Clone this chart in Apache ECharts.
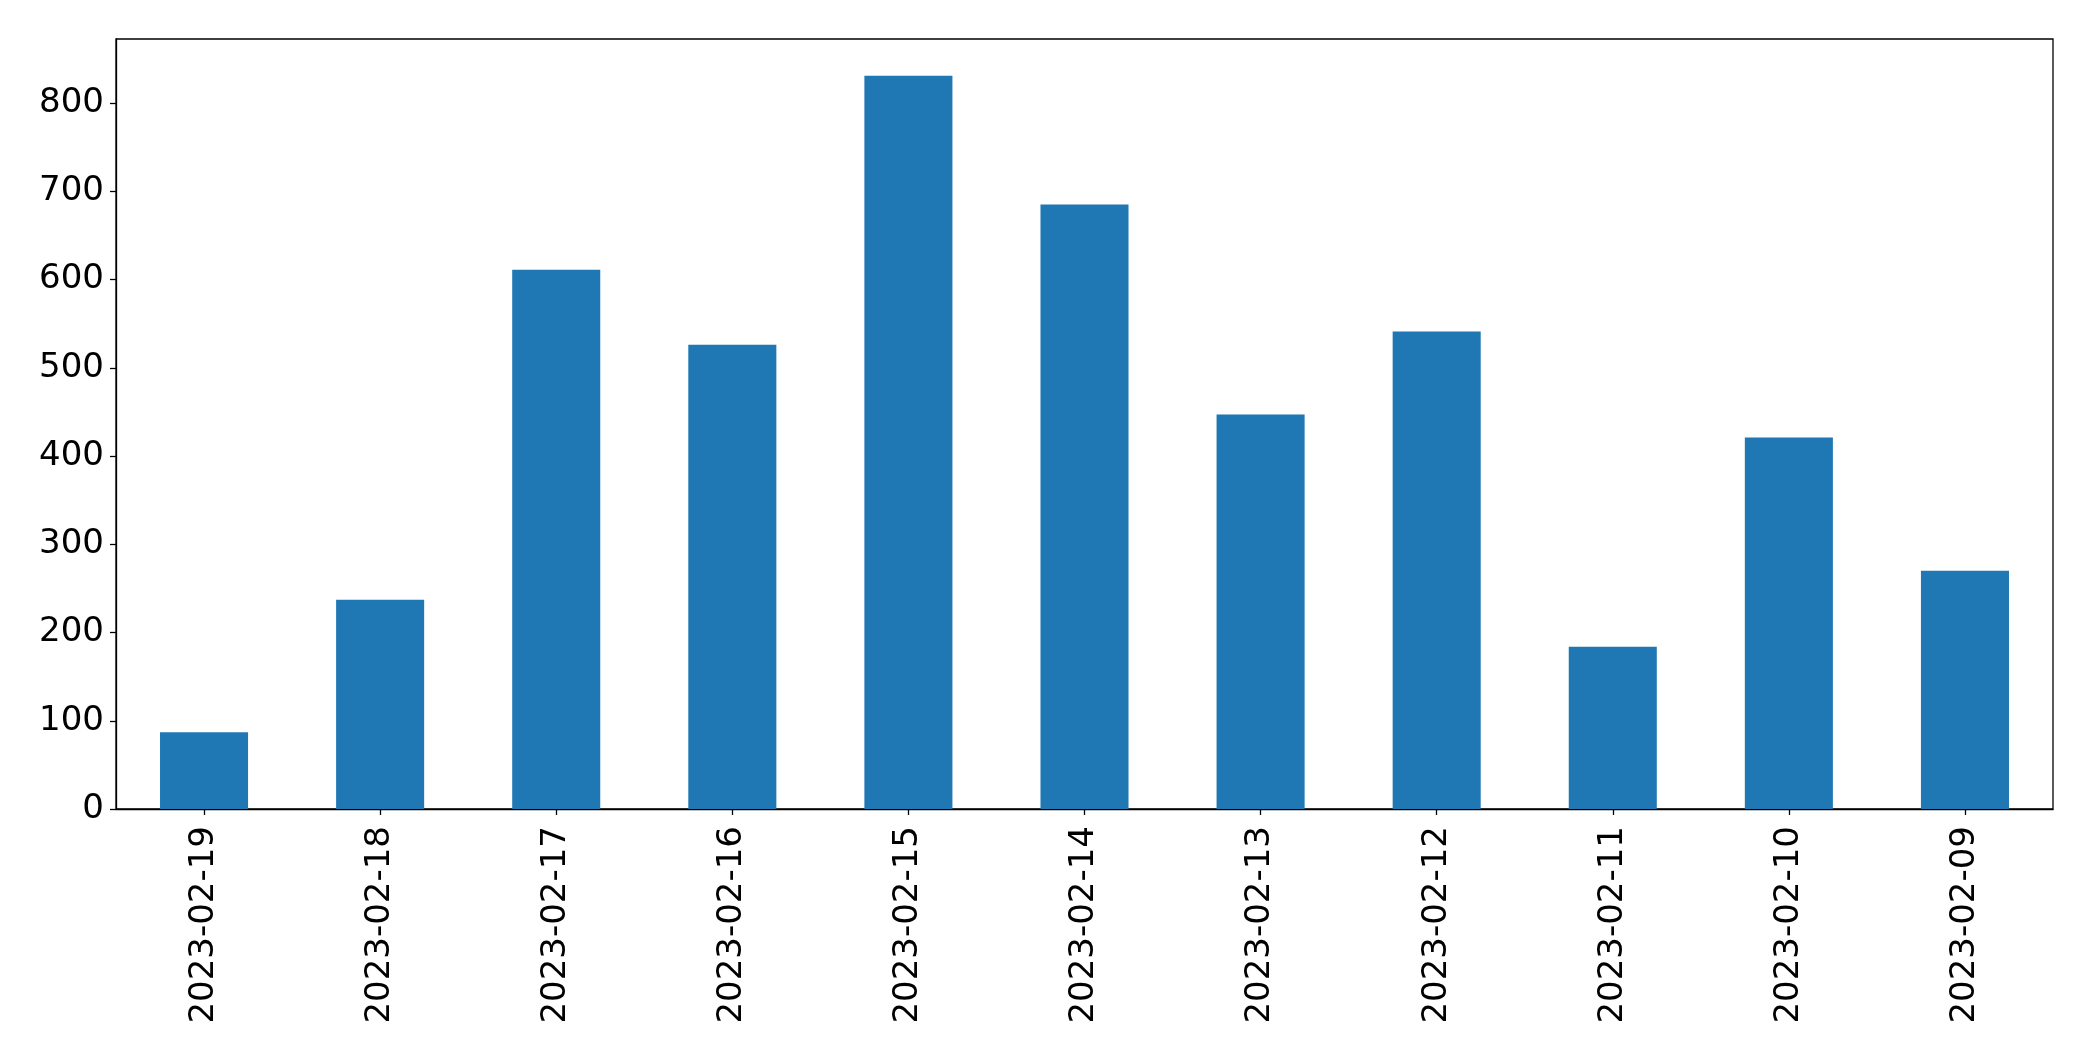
<!DOCTYPE html>
<html>
<head>
<meta charset="utf-8">
<script src="https://cdn.jsdelivr.net/npm/echarts@6/dist/echarts.min.js"></script>
<style>
html,body{margin:0;padding:0;background:#fff;}
#chart{width:2093px;height:1061px;}
</style>
</head>
<body>
<div id="chart"></div>
<script>
const categories = ["2023-02-19","2023-02-18","2023-02-17","2023-02-16","2023-02-15","2023-02-14","2023-02-13","2023-02-12","2023-02-11","2023-02-10","2023-02-09"];
const values = [87, 237, 611, 526, 831, 685, 447, 541, 184, 421, 270];
const yTicks = [0, 100, 200, 300, 400, 500, 600, 700, 800];

const yMax = Math.max(...values) * 1.05;
const chart = echarts.init(document.getElementById('chart'), null, {renderer: 'canvas'});
chart.setOption({
  animation: false,
  backgroundColor: '#ffffff',
  grid: {
    left: 116, right: 40, top: 39, bottom: 252,
    show: true, borderColor: '#000000', borderWidth: 1.3, backgroundColor: 'transparent'
  },
  xAxis: {
    type: 'category',
    data: categories,
    axisLine: {show: true, lineStyle: {color: '#000', width: 1.3}},
    axisTick: {show: true, alignWithLabel: true, length: 6, lineStyle: {color: '#000', width: 1.3}},
    axisLabel: {
      rotate: 90, margin: 17, color: '#000',
      fontFamily: 'DejaVu Sans', fontSize: 34, interval: 0
    },
    splitLine: {show: false}
  },
  yAxis: {
    type: 'value',
    min: 0, max: yMax, interval: 100,
    axisLine: {show: true, lineStyle: {color: '#000', width: 1.3}},
    axisTick: {show: true, length: 6, lineStyle: {color: '#000', width: 1.3}},
    axisLabel: {
      margin: 12, color: '#000', fontFamily: 'DejaVu Sans', fontSize: 34,
      padding: [6, 0, 0, 0],
      showMaxLabel: false,
      formatter: function (v) { return yTicks.indexOf(v) >= 0 ? String(v) : ''; }
    },
    splitLine: {show: false}
  },
  series: [{
    type: 'bar',
    data: values,
    barWidth: '50%',
    itemStyle: {color: '#1f77b4'}
  }]
});
</script>
</body>
</html>
